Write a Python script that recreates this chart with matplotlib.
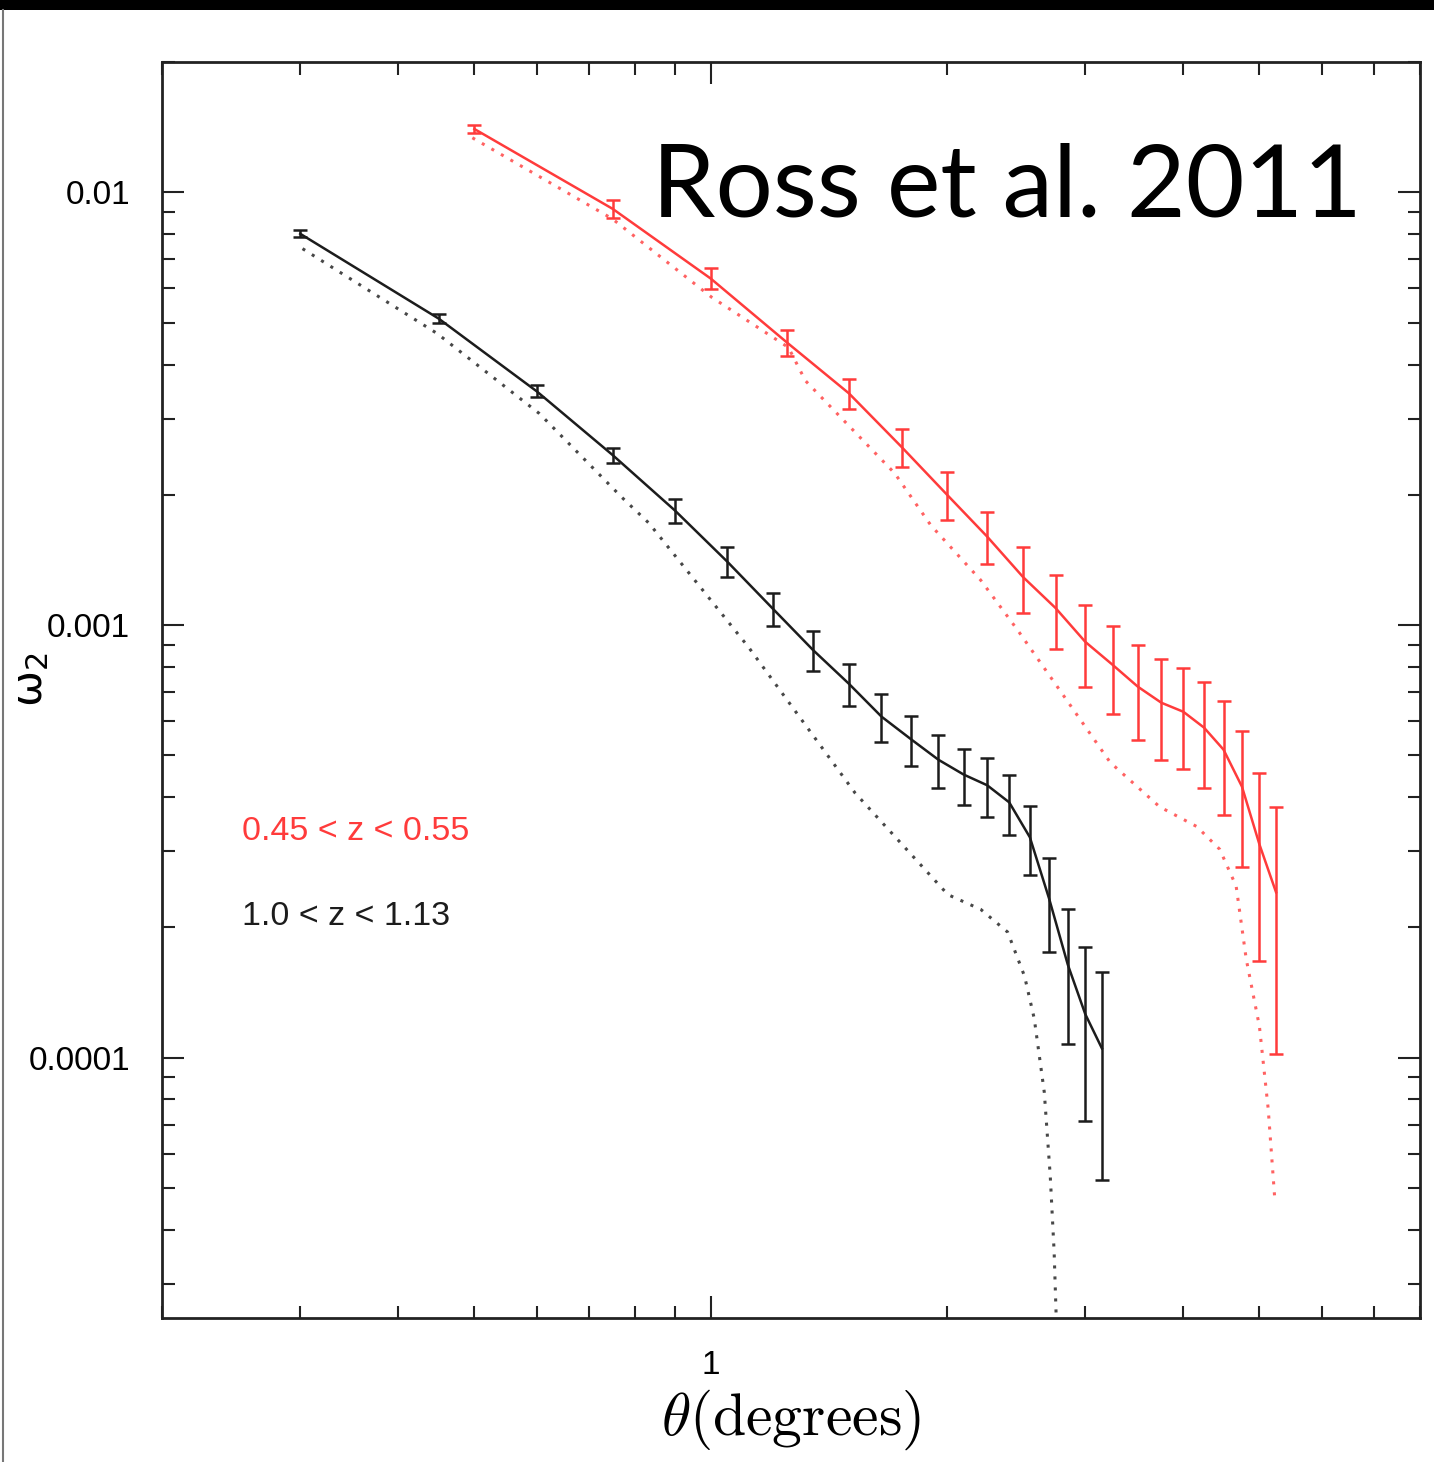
"""Angular clustering w2(theta) for two redshift slices, log-log with model curves."""

import matplotlib

matplotlib.use("Agg")
import matplotlib.pyplot as plt
from matplotlib.lines import Line2D
from matplotlib.patches import Rectangle
from matplotlib.ticker import FixedLocator, LogLocator, NullFormatter

# 0.45 < z < 0.55 slice (red)
theta_lowz = [0.5, 0.75, 1.0, 1.25, 1.5, 1.75, 2.0, 2.25, 2.5, 2.75,
              3.0, 3.25, 3.5, 3.75, 4.0, 4.25, 4.5, 4.75, 5.0, 5.25]
w2_lowz = [0.01401, 0.00916, 0.00632, 0.00450, 0.00343, 0.00258, 0.00200,
           0.00160, 0.00129, 0.001094, 0.000914, 0.000809, 0.000720,
           0.000661, 0.000630, 0.000579, 0.000515, 0.000423, 0.000311,
           0.000241]
err_lowz = [0.00033, 0.00042, 0.00035, 0.00031, 0.00028, 0.00026, 0.000253,
            0.00022, 0.000223, 0.000213, 0.000196, 0.000188, 0.000178,
            0.000173, 0.000165, 0.00016, 0.000152, 0.000147, 0.000144,
            0.000139]
model_theta_lowz = [0.497, 0.749, 1.003, 1.256, 1.32, 1.716, 1.907, 2.207,
                    2.459, 2.822, 3.228, 3.73, 4.16, 4.45, 4.67, 4.81, 5.00,
                    5.13, 5.23]
model_w2_lowz = [0.01337, 0.00869, 0.00572, 0.00438, 0.00367, 0.00224,
                 0.00170, 0.00127, 0.000974, 0.000682, 0.000481, 0.000380,
                 0.000342, 0.000303, 0.000249, 0.000169, 0.000118, 0.0000762,
                 0.0000472]

# 1.0 < z < 1.13 slice (black)
theta_hiz = [0.3, 0.45, 0.6, 0.75, 0.9, 1.05, 1.2, 1.35, 1.5, 1.65,
             1.8, 1.95, 2.1, 2.25, 2.4, 2.55, 2.7, 2.85, 3.0, 3.15]
w2_hiz = [0.00802, 0.00511, 0.00347, 0.00247, 0.00184, 0.00140, 0.00109,
          0.000875, 0.000731, 0.000614, 0.000544, 0.000488, 0.000451,
          0.000426, 0.000389, 0.000323, 0.000232, 0.000164, 0.000126,
          0.000105]
err_hiz = [0.00015, 0.00011, 0.00011, 0.0001, 0.000117, 0.000112, 0.000093,
           0.000091, 0.000083, 0.000078, 0.000073, 0.000068, 0.000067,
           0.000066, 0.000062, 0.0000585, 0.000057, 0.0000564, 0.0000545,
           0.000053]
model_theta_hiz = [0.302, 0.448, 0.605, 0.771, 0.834, 1.117, 1.527, 2.005,
                   2.208, 2.389, 2.511, 2.583, 2.660, 2.707, 2.738, 2.755]
model_w2_hiz = [0.00741, 0.00472, 0.00308, 0.00197, 0.00172, 0.000889,
                0.000409, 0.000238, 0.000220, 0.000195, 0.000154, 0.000123,
                0.0000832, 0.0000533, 0.0000356, 0.0000250]

y_major = [1e-4, 1e-3, 1e-2]
y_major_labels = ["0.0001", "0.001", "0.01"]
x_major = [1]
x_major_labels = ["1"]

RED = "#ff3b3b"
BLACK = "#1c1c1c"

fig = plt.figure(figsize=(14.34, 14.62), dpi=100, facecolor="white")
ax = fig.add_axes([0.113, 0.0985, 0.877, 0.859])

# dotted model curves
ax.plot(model_theta_lowz, model_w2_lowz, color=RED, lw=2.2,
        ls=(0, (1, 2.6)), alpha=0.8)
ax.plot(model_theta_hiz, model_w2_hiz, color="#333333", lw=2.2,
        ls=(0, (1, 2.6)), alpha=0.9)

# measurements
for th, w, e, c in [(theta_lowz, w2_lowz, err_lowz, RED),
                    (theta_hiz, w2_hiz, err_hiz, BLACK)]:
    ax.errorbar(th, w, yerr=e, color=c, lw=1.8, elinewidth=1.8,
                capsize=4.8, capthick=1.8)

ax.set_xscale("log")
ax.set_yscale("log")
ax.set_xlim(0.2, 8)
ax.set_ylim(2.5e-5, 0.02)

ax.xaxis.set_major_locator(FixedLocator(x_major))
ax.set_xticklabels(x_major_labels)
ax.xaxis.set_minor_locator(LogLocator(base=10, subs=range(2, 10)))
ax.xaxis.set_minor_formatter(NullFormatter())
ax.yaxis.set_major_locator(FixedLocator(y_major))
ax.set_yticklabels(y_major_labels)
ax.yaxis.set_minor_locator(LogLocator(base=10, subs=range(2, 10)))
ax.yaxis.set_minor_formatter(NullFormatter())

ax.tick_params(which="both", direction="in", top=True, right=True,
               width=1.5, color="#222222")
ax.tick_params(which="major", length=16, labelsize=24, pad=23)
ax.tick_params(which="minor", length=9)
for lab in ax.get_xticklabels() + ax.get_yticklabels():
    lab.set_family("Liberation Sans")
for sp in ax.spines.values():
    sp.set_linewidth(2.0)
    sp.set_color("#222222")

ax.set_xlabel(r"$\theta(\mathrm{degrees})$", fontsize=43, math_fontfamily="cm")
ax.xaxis.set_label_coords(0.5, -0.081)
ax.xaxis.label.set_va("center")
ax.set_ylabel(r"$\mathrm{\omega}_2$", fontsize=31,
              math_fontfamily="dejavusans")
ax.yaxis.set_label_coords(-0.105, 0.508)
ax.yaxis.label.set_va("center")

ax.text(0.0636, 0.3877, "0.45 < z < 0.55", color=RED, fontsize=24.5,
        family="Liberation Sans", transform=ax.transAxes, va="center")
ax.text(0.0636, 0.320, "1.0 < z < 1.13", color=BLACK, fontsize=24.5,
        family="Liberation Sans", transform=ax.transAxes, va="center")

fig.text(0.9498, 0.8516, "Ross et al. 2011", fontsize=73, family="Lato",
         ha="right", va="baseline", color="black")

# slide frame: dark strip at the top and a thin rule on the left
fig.patches.append(Rectangle((0, 0.9935), 1, 0.0065, transform=fig.transFigure,
                             facecolor="black", edgecolor="none"))
fig.lines.append(Line2D([0.0018, 0.0018], [0, 0.9935], transform=fig.transFigure,
                        color="#777777", lw=1.5))

fig.savefig("out.png", dpi=100, facecolor="white")
